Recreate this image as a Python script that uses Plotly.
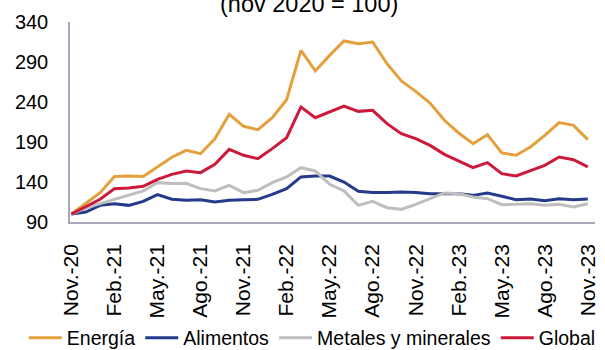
import plotly.graph_objects as go

months = ["Nov.-20", "Dic.-20",
          "Ene.-21", "Feb.-21", "Mar.-21", "Abr.-21", "May.-21", "Jun.-21",
          "Jul.-21", "Ago.-21", "Sep.-21", "Oct.-21", "Nov.-21", "Dic.-21",
          "Ene.-22", "Feb.-22", "Mar.-22", "Abr.-22", "May.-22", "Jun.-22",
          "Jul.-22", "Ago.-22", "Sep.-22", "Oct.-22", "Nov.-22", "Dic.-22",
          "Ene.-23", "Feb.-23", "Mar.-23", "Abr.-23", "May.-23", "Jun.-23",
          "Jul.-23", "Ago.-23", "Sep.-23", "Oct.-23", "Nov.-23"]

energia = [100, 113, 126.7, 147, 147.5, 147, 158.8, 171, 179.6, 175.4, 194, 224.6,
           209.6, 205.4, 220.4, 242.9, 304.6, 278.8, 298.3, 316.3, 312.9, 315,
           287.9, 266.3, 253.3, 238.8, 217.1, 201.3, 187.9, 199.2, 176.3, 173.4,
           183.8, 198.3, 214.2, 210.8, 192.9]

alimentos = [100, 102.5, 110.8, 112.9, 110.8, 115.8, 124.2, 118.4, 117.1, 117.9, 115, 117.1,
             117.9, 118.3, 124.6, 131.7, 146.3, 147.5, 147.5, 140, 128.3, 127,
             127, 127.5, 127, 125.4, 125.4, 125.4, 123.3, 126.3, 122.1, 117.9,
             118.8, 116.7, 119.2, 117.9, 118.8]

metales = [100, 107.5, 112.9, 117.9, 123.3, 128.8, 139.2, 138, 138.3, 131.7, 128.8, 135.8,
           126.7, 129.6, 139.2, 146.3, 157.9, 153.8, 137.1, 128.8, 110.8, 115.8,
           107.9, 105.8, 112.1, 119.2, 126.3, 125.4, 121.3, 119.2, 111.7, 112.1,
           112.9, 110.8, 112.1, 108.8, 112.9]

global_idx = [100, 108.8, 118.4, 131.7, 132.4, 134.6, 143.4, 149.6, 153.8, 151.7, 162, 180.8,
              173.4, 169.2, 181.7, 195.4, 233.8, 220.4, 227.5, 235, 228.3, 229.6,
              212.9, 200.4, 194.2, 185.8, 174.6, 166.3, 157.9, 164.2, 150.4, 147.5,
              153.8, 160.8, 171.3, 167.9, 158.8]

tick_labels = months[::3]
y_ticks = [90, 140, 190, 240, 290, 340]

series = [
    ("Energía", energia, "#E3A03D"),
    ("Alimentos", alimentos, "#253A8A"),
    ("Metales y minerales", metales, "#BEBEBE"),
    ("Global", global_idx, "#CC1A3A"),
]

FONT = "Arial, Liberation Sans, sans-serif"

fig = go.Figure()
for name, vals, color in series:
    fig.add_trace(go.Scatter(x=months, y=vals, mode="lines", name=name,
                             line=dict(color=color, width=3)))

fig.update_layout(
    width=605, height=350,
    margin=dict(l=70, r=10, t=22, b=128, autoexpand=False),
    paper_bgcolor="white", plot_bgcolor="white",
    font=dict(family=FONT, color="black", size=20),
    showlegend=True,
    legend=dict(orientation="h", xref="paper", x=-0.088, xanchor="left",
                yref="paper", y=-0.58, yanchor="middle",
                font=dict(size=19.5, family=FONT), itemwidth=33,
                traceorder="normal", bgcolor="rgba(0,0,0,0)"),
    annotations=[dict(text="(nov 2020 = 100)", xref="paper", yref="paper",
                      x=0.456, y=1.092, xanchor="center", yanchor="middle",
                      showarrow=False, font=dict(size=23.5, family=FONT))],
)

fig.update_xaxes(type="category", range=[-0.1, 36.5], tickmode="array",
                 tickvals=tick_labels, ticktext=tick_labels, tickangle=-90,
                 showline=True, linecolor="#A6A8BD", linewidth=1.5,
                 showgrid=False, ticks="outside", ticklen=12,
                 tickcolor="rgba(0,0,0,0)",
                 tickfont=dict(size=21, family=FONT))
fig.update_yaxes(range=[90, 340], tickmode="array", tickvals=y_ticks,
                 showline=True, linecolor="#A6A8BD", linewidth=1.5,
                 showgrid=False, zeroline=False, ticks="outside", ticklen=16,
                 tickcolor="rgba(0,0,0,0)",
                 tickfont=dict(size=20, family=FONT))

fig.write_html("out.html")
